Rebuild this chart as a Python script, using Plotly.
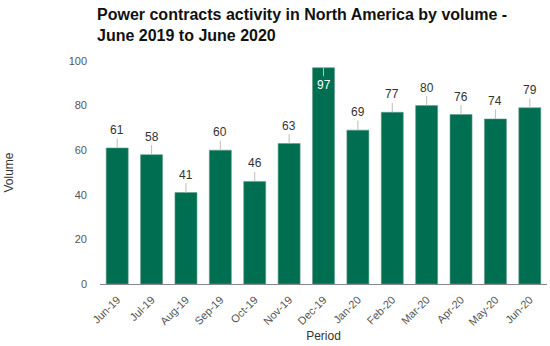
import plotly.graph_objects as go

periods = ["Jun-19", "Jul-19", "Aug-19", "Sep-19", "Oct-19", "Nov-19", "Dec-19",
           "Jan-20", "Feb-20", "Mar-20", "Apr-20", "May-20", "Jun-20"]
volumes = [61, 58, 41, 60, 46, 63, 97, 69, 77, 80, 76, 74, 79]
y_ticks = [0, 20, 40, 60, 80, 100]

GREEN = "#006E50"
FONT = "Liberation Sans, Arial, sans-serif"

fig = go.Figure(go.Bar(
    x=periods, y=volumes, marker=dict(color=GREEN, line=dict(color="#5E9E86", width=0.6)),
    hoverinfo="x+y",
))

annotations = []
for p, v in zip(periods, volumes):
    inside = v > 90
    annotations.append(dict(
        x=p, y=v, xref="x", yref="y", text=str(v), showarrow=True,
        arrowhead=0, arrowwidth=1, arrowcolor="#BDBDBD",
        ax=0, ay=17 if inside else -18,
        font=dict(family=FONT, size=12, color="white" if inside else "#333333"),
    ))

annotations.append(dict(
    text="<b>Power contracts activity in North America by volume -<br>June 2019 to June 2020</b>",
    xref="paper", yref="paper", x=-5/447, y=1 + 57/223, xanchor="left", yanchor="top",
    align="left", showarrow=False,
    font=dict(family=FONT, size=16, color="#111111"),
))

fig.update_layout(
    width=550, height=346,
    margin=dict(l=100, r=3, t=61, b=62),
    paper_bgcolor="white", plot_bgcolor="white",
    bargap=0.36,
    showlegend=False,
    font=dict(family=FONT),
    annotations=annotations,
)
fig.update_xaxes(
    showline=True, linecolor="#888888", linewidth=1,
    tickangle=-45, tickfont=dict(size=11, color="#555555"),
    ticks="outside", ticklen=4, tickcolor="white", showgrid=False,
    title=dict(text="Period", font=dict(size=12, color="#333333"), standoff=4),
)
fig.update_yaxes(
    range=[0, 100], tickvals=y_ticks, showgrid=False, zeroline=False, showline=False,
    tickfont=dict(size=11, color="#555555"), ticklabelstandoff=12,
    title=dict(text="Volume", font=dict(size=12, color="#333333"), standoff=52),
)
fig.write_html("out.html")
